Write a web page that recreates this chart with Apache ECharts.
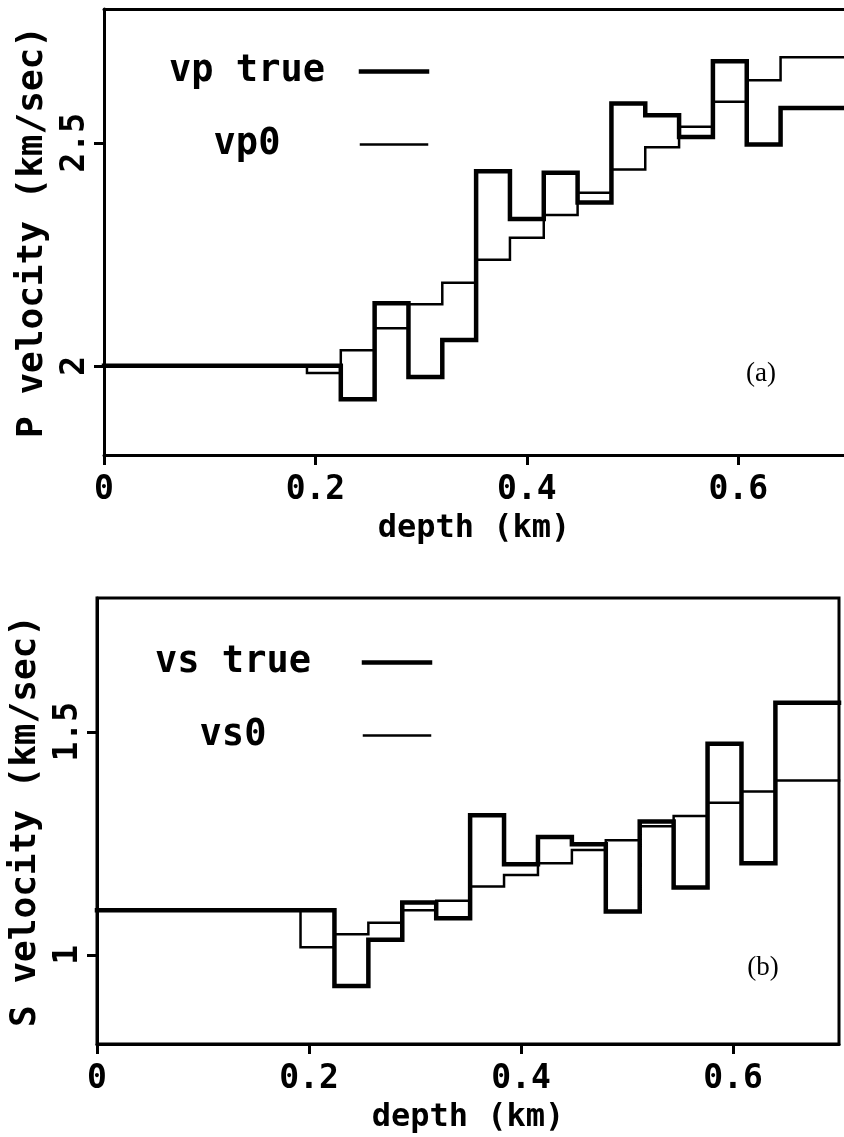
<!DOCTYPE html>
<html>
<head>
<meta charset="utf-8">
<script src="https://cdn.jsdelivr.net/npm/echarts@6/dist/echarts.min.js"></script>
<style>
  html, body { margin: 0; padding: 0; background: #fff; }
  #chart { width: 844px; height: 1137px; }
</style>
</head>
<body>
<div id="chart"></div>
<script>
// top of each layer (km), last layer runs to depthEnd
const layerTops = [0, 0.192, 0.224, 0.256, 0.288, 0.32, 0.352, 0.384, 0.416, 0.448, 0.48, 0.512, 0.544, 0.576, 0.608, 0.64];
const depthEnd = 0.7;

// P velocity (km/sec)
const vpTrue = [2.0, 2.0, 1.925, 2.14, 1.975, 2.058, 2.436, 2.329, 2.433, 2.366, 2.588, 2.562, 2.513, 2.683, 2.496, 2.578];
const vp0 = [2.0, 1.984, 2.035, 2.084, 2.138, 2.186, 2.238, 2.287, 2.338, 2.388, 2.44, 2.49, 2.536, 2.592, 2.64, 2.692];

// S velocity (km/sec)
const vsTrue = [1.1, 1.1, 0.93, 1.034, 1.117, 1.082, 1.313, 1.203, 1.264, 1.248, 1.097, 1.299, 1.151, 1.473, 1.205, 1.565];
const vs0 = [1.1, 1.017, 1.046, 1.072, 1.1, 1.121, 1.153, 1.179, 1.205, 1.235, 1.257, 1.288, 1.311, 1.341, 1.366, 1.391];

const depthTicks = [0, 0.2, 0.4, 0.6];
const vpTicks = [2, 2.5];
const vsTicks = [1, 1.5];

const FONT = "'DejaVu Sans Mono', monospace";
const THICK = 4.5;
const THIN = 2.5;

// step line points: value of each layer starts at its top
function stepData(vals) {
  const pts = layerTops.map((d, i) => [d, vals[i]]);
  pts.push([depthEnd, vals[vals.length - 1]]);
  return pts;
}

function stepSeries(name, vals, idx, width) {
  return {
    name: name,
    type: 'line',
    xAxisIndex: idx,
    yAxisIndex: idx,
    step: 'end',
    symbol: 'none',
    data: stepData(vals),
    lineStyle: { color: '#000', width: width, join: 'miter', cap: 'square' },
    itemStyle: { color: '#000' },
    z: width > 3 ? 3 : 2,
  };
}

function xAxisFor(idx) {
  return {
    type: 'value',
    gridIndex: idx,
    min: 0,
    max: depthEnd,
    name: 'depth (km)',
    nameLocation: 'middle',
    nameGap: 58,
    nameTextStyle: { fontFamily: FONT, fontSize: 32, fontWeight: 'bold', color: '#000' },
    axisLine: { show: true, lineStyle: { color: '#000', width: 3 } },
    axisTick: { show: true, inside: false, length: 10, customValues: depthTicks, lineStyle: { color: '#000', width: 3 } },
    axisLabel: { customValues: depthTicks, margin: 19, fontFamily: FONT, fontSize: 33, fontWeight: 'bold', color: '#000' },
    splitLine: { show: false },
  };
}

// top frame line of the upper panel (its right edge is cropped off)
const topFrame = {
  type: 'value',
  gridIndex: 0,
  position: 'top',
  min: 0,
  max: depthEnd,
  axisLine: { show: true, lineStyle: { color: '#000', width: 3 } },
  axisTick: { show: false },
  axisLabel: { show: false },
  splitLine: { show: false },
};

function yAxisFor(idx, name, min, max, ticks) {
  return {
    type: 'value',
    gridIndex: idx,
    min: min,
    max: max,
    name: name,
    nameLocation: 'middle',
    nameGap: 47,
    nameTextStyle: { fontFamily: FONT, fontSize: 36, fontWeight: 'bold', color: '#000' },
    axisLine: { show: true, lineStyle: { color: '#000', width: 3 } },
    axisTick: { show: true, inside: false, length: 10, customValues: ticks, lineStyle: { color: '#000', width: 3 } },
    axisLabel: { customValues: ticks, rotate: 90, margin: 12, fontFamily: FONT, fontSize: 33, fontWeight: 'bold', color: '#000' },
    splitLine: { show: false },
  };
}

function legendFor(names, left, top, boxW) {
  return {
    data: [
      { name: names[0], lineStyle: { width: THICK, color: '#000' } },
      { name: names[1], lineStyle: { width: THIN, color: '#000' } },
    ],
    orient: 'vertical',
    align: 'right',
    left: left,
    top: top,
    padding: 0,
    itemWidth: 66,
    itemHeight: 14,
    itemGap: 36,
    selectedMode: false,
    itemStyle: { opacity: 0, color: 'transparent', borderWidth: 0 },
    formatter: (n) => '{t|' + n + '}',
    textStyle: {
      rich: {
        t: { width: boxW, align: 'center', lineHeight: 36, fontFamily: FONT, fontSize: 37, fontWeight: 'bold', color: '#000' },
      },
    },
  };
}

const chart = echarts.init(document.getElementById('chart'), null, { renderer: 'canvas' });

const option = {
  backgroundColor: '#fff',
  animation: false,
  grid: [
    { left: 104, top: 9, width: 741, height: 446, show: false },
    { left: 97, top: 598, width: 742, height: 446, show: true, borderColor: '#000', borderWidth: 3, backgroundColor: 'transparent' },
  ],
  xAxis: [xAxisFor(0), xAxisFor(1), topFrame],
  yAxis: [
    yAxisFor(0, 'P velocity (km/sec)', 1.8, 2.8, vpTicks),
    yAxisFor(1, 'S velocity (km/sec)', 0.8, 1.8, vsTicks),
  ],
  legend: [
    legendFor(['vp true', 'vp0'], 138, 53, 218),
    legendFor(['vs true', 'vs0'], 107, 644, 252),
  ],
  graphic: [
    { type: 'text', x: 761, y: 374, style: { text: '(a)', fontFamily: "'Liberation Serif', serif", fontSize: 27, fill: '#000', align: 'center', verticalAlign: 'middle' } },
    { type: 'text', x: 763, y: 968, style: { text: '(b)', fontFamily: "'Liberation Serif', serif", fontSize: 27, fill: '#000', align: 'center', verticalAlign: 'middle' } },
  ],
  series: [
    stepSeries('vp0', vp0, 0, THIN),
    stepSeries('vp true', vpTrue, 0, THICK),
    stepSeries('vs0', vs0, 1, THIN),
    stepSeries('vs true', vsTrue, 1, THICK),
  ],
};

chart.setOption(option);
</script>
</body>
</html>
